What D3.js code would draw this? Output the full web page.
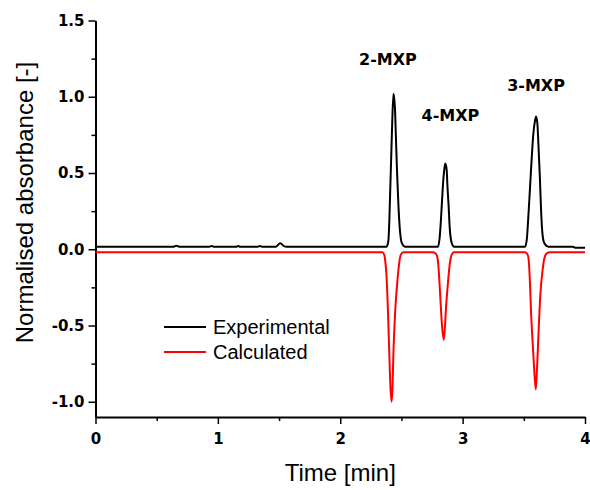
<!DOCTYPE html>
<html>
<head>
<meta charset="utf-8">
<script src="https://cdn.jsdelivr.net/npm/d3@7"></script>
<style>
  body { margin: 0; background: #fff; }
  svg { display: block; }
</style>
</head>
<body>
<svg width="590" height="490"></svg>
<script>
// experimental trace (time in min, normalised absorbance)
const expTime = [0, 0.64, 0.662, 0.684, 0.93, 0.948, 0.966, 1.15, 1.166, 1.182, 1.325, 1.343, 1.361,
  1.475, 1.509, 1.545, 1.562,
  2.379, 2.393, 2.401, 2.409, 2.417, 2.425, 2.435, 2.447, 2.455, 2.464, 2.475, 2.486, 2.502, 2.529,
  2.799, 2.813, 2.821, 2.832, 2.842, 2.853, 2.859, 2.870, 2.875, 2.886, 2.894, 2.908, 2.930,
  3.510, 3.524, 3.537, 3.551, 3.565, 3.578, 3.592, 3.600, 3.611, 3.619, 3.631, 3.641, 3.652, 3.668, 3.701,
  3.90, 3.92, 4.0];
const expValue = [0.017, 0.017, 0.023, 0.017, 0.017, 0.022, 0.017, 0.017, 0.022, 0.017, 0.017, 0.022, 0.017,
  0.017, 0.039, 0.019, 0.017,
  0.017, 0.054, 0.185, 0.403, 0.621, 0.839, 1.02, 0.926, 0.730, 0.512, 0.294, 0.141, 0.043, 0.017,
  0.017, 0.082, 0.170, 0.322, 0.453, 0.540, 0.562, 0.518, 0.431, 0.278, 0.148, 0.050, 0.017,
  0.017, 0.061, 0.213, 0.409, 0.605, 0.758, 0.845, 0.870, 0.823, 0.693, 0.475, 0.257, 0.104, 0.039, 0.017,
  0.017, 0.010, 0.010];

// calculated trace (plotted inverted)
const calcTime = [0, 2.344, 2.360, 2.371, 2.379, 2.390, 2.401, 2.409, 2.420, 2.427, 2.434, 2.449, 2.469, 2.480, 2.494, 2.515,
  2.758, 2.785, 2.799, 2.807, 2.818, 2.829, 2.845, 2.853, 2.864, 2.881, 2.894, 2.908, 2.930,
  3.510, 3.532, 3.543, 3.551, 3.559, 3.570, 3.581, 3.598, 3.608, 3.622, 3.635, 3.652, 3.668, 3.688, 3.715, 4.0];
const calcValue = [-0.02, -0.02, -0.037, -0.103, -0.19, -0.408, -0.691, -0.887, -1.0, -0.909, -0.691, -0.408, -0.19, -0.103, -0.037, -0.02,
  -0.02, -0.033, -0.081, -0.168, -0.321, -0.473, -0.593, -0.539, -0.386, -0.212, -0.103, -0.042, -0.02,
  -0.02, -0.037, -0.103, -0.234, -0.408, -0.582, -0.735, -0.92, -0.779, -0.517, -0.299, -0.146, -0.059, -0.027, -0.02, -0.02];

const peakNames = ["2-MXP", "4-MXP", "3-MXP"];
const peakTime = [2.39, 2.90, 3.60];
const peakLabelValue = [1.21, 0.84, 1.04];

const xTicks = [0, 1, 2, 3, 4];
const xMinor = [0.5, 1.5, 2.5, 3.5];
const yTicks = [-1.0, -0.5, 0.0, 0.5, 1.0, 1.5];
const yMinor = [-0.75, -0.25, 0.25, 0.75, 1.25];

const seriesNames = ["Experimental", "Calculated"];
const seriesColors = ["#000000", "#ff0000"];

const svg = d3.select("svg");
const x = d3.scaleLinear().domain([0, 4]).range([95.5, 585]);
const y = d3.scaleLinear().domain([-1.1, 1.5]).range([417, 20.5]);

const tickFont = "DejaVu Sans, sans-serif";

// axes
svg.append("g")
  .attr("transform", `translate(0,${y(-1.1)})`)
  .call(d3.axisBottom(x).tickValues(xTicks).tickFormat(d3.format("d")).tickSize(7).tickSizeOuter(0).tickPadding(9));
svg.append("g")
  .attr("transform", `translate(0,${y(-1.1)})`)
  .call(d3.axisBottom(x).tickValues(xMinor).tickFormat("").tickSize(4).tickSizeOuter(0))
  .select(".domain").remove();

svg.append("g")
  .attr("transform", `translate(${x(0)},0)`)
  .call(d3.axisLeft(y).tickValues(yTicks).tickFormat(d => d.toFixed(1)).tickSize(7).tickSizeOuter(0).tickPadding(4));
svg.append("g")
  .attr("transform", `translate(${x(0)},0)`)
  .call(d3.axisLeft(y).tickValues(yMinor).tickFormat("").tickSize(4).tickSizeOuter(0))
  .select(".domain").remove();

svg.selectAll(".domain").attr("stroke", "#000").attr("stroke-width", 2);
svg.selectAll(".tick line").attr("stroke", "#000").attr("stroke-width", 1.5);
svg.selectAll(".tick text")
  .attr("font-family", tickFont).attr("font-weight", "bold")
  .attr("font-size", 15).attr("fill", "#000");

// axis titles
svg.append("text")
  .attr("transform", `translate(33,${(60 + 345) / 2}) rotate(-90)`)
  .attr("text-anchor", "middle")
  .attr("font-family", "Liberation Sans, Arial, sans-serif")
  .attr("font-size", 24)
  .text("Normalised absorbance [-]");

svg.append("text")
  .attr("x", x(2)).attr("y", 481)
  .attr("text-anchor", "middle")
  .attr("font-family", "Liberation Sans, Arial, sans-serif")
  .attr("font-size", 24)
  .text("Time [min]");

// lines
const line = d3.line()
  .x(d => x(d[0]))
  .y(d => y(d[1]))
  .curve(d3.curveMonotoneX);

const expData = expTime.map((t, i) => [t, expValue[i]]);
const calcData = calcTime.map((t, i) => [t, calcValue[i]]);

svg.append("path").datum(calcData)
  .attr("d", line).attr("fill", "none")
  .attr("stroke", seriesColors[1]).attr("stroke-width", 2);
svg.append("path").datum(expData)
  .attr("d", line).attr("fill", "none")
  .attr("stroke", seriesColors[0]).attr("stroke-width", 2);

// peak labels
svg.selectAll(".peak").data(peakNames).enter().append("text")
  .attr("class", "peak")
  .attr("x", (d, i) => x(peakTime[i]))
  .attr("y", (d, i) => y(peakLabelValue[i]))
  .attr("text-anchor", "middle")
  .attr("font-family", tickFont).attr("font-weight", "bold")
  .attr("font-size", 16)
  .text(d => d);

// legend
const legend = svg.append("g").attr("transform", "translate(164,327)");
seriesNames.forEach((name, i) => {
  const g = legend.append("g").attr("transform", `translate(0,${i * 25})`);
  g.append("line").attr("x1", 0).attr("x2", 42).attr("y1", 0).attr("y2", 0)
    .attr("stroke", seriesColors[i]).attr("stroke-width", 2);
  g.append("text").attr("x", 49).attr("y", 7)
    .attr("font-family", "Liberation Sans, Arial, sans-serif")
    .attr("font-size", 20)
    .text(name);
});
</script>
</body>
</html>
